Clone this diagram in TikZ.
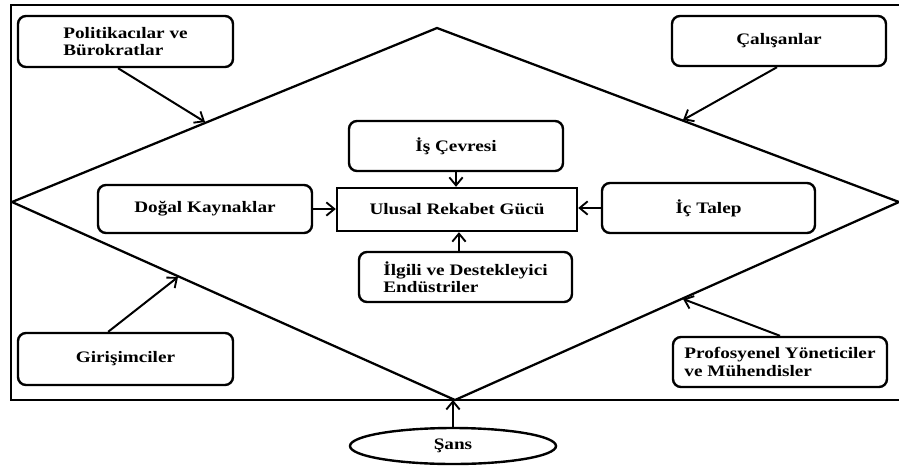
\documentclass[tikz,border=0pt]{standalone}
\usepackage{fontspec}
\setmainfont{Liberation Serif}[FakeStretch=1.2]
\usetikzlibrary{arrows.meta,shapes.geometric}
\begin{document}
\begin{tikzpicture}[x=0.75pt,y=-0.75pt,
  txt/.style={font=\fontsize{12}{13}\selectfont\bfseries},
  box/.style={txt,draw,line width=1.8pt,rounded corners=6pt,align=left,inner sep=0pt},
  sharpbox/.style={txt,draw,line width=1.8pt,align=center,inner sep=0pt},
  oval/.style={txt,draw,ellipse,line width=1.8pt,inner sep=0pt},
  arr/.style={line width=1.5pt,-{Straight Barb[length=6pt,width=10pt,line width=1.4pt]}},
  frame/.style={line width=2.2pt},
  dia/.style={line width=1.7pt,line join=round}
]
\useasboundingbox (0,0) rectangle (899,468);
% outer frame (right side beyond picture)
\draw[frame] (899,5) -- (11,5) -- (11,400) -- (899,400);
% diamond
\coordinate (dl) at (12,202);
\coordinate (dt) at (437,28);
\coordinate (dr) at (899,202);
\coordinate (db) at (455,400);
\draw[dia] (dl) -- (dt) -- (dr) -- (db) -- cycle;
\coordinate (d1) at (205,122);
\coordinate (d2) at (683,120);
\coordinate (d3) at (178,277);
\coordinate (d4) at (683,299);

% boxes
\node[box,minimum width=161.25pt,minimum height=38.25pt] (pol) at (125.5,41.5) {Politikacılar ve\\Bürokratlar};
\node[box,minimum width=160.5pt,minimum height=37.5pt] (cal) at (779,41) {Çalışanlar};
\node[box,minimum width=160.5pt,minimum height=37.5pt] (is) at (456,146) {İş Çevresi};
\node[sharpbox,minimum width=180pt,minimum height=32.25pt] (ulu) at (457,209.5) {Ulusal Rekabet Gücü};
\node[box,minimum width=159.75pt,minimum height=37.5pt] (ilg) at (465.5,277) {İlgili ve Destekleyici\\Endüstriler};
\node[box,minimum width=160.5pt,minimum height=36pt] (dog) at (205,209) {Doğal Kaynaklar};
\node[box,minimum width=159.75pt,minimum height=37.5pt] (ict) at (708.5,208) {İç Talep};
\node[box,minimum width=161.25pt,minimum height=39pt] (gir) at (125.5,359) {Girişimciler};
\node[box,minimum width=160.5pt,minimum height=37.5pt] (pro) at (780,362) {Profosyenel Yöneticiler\\ve Mühendisler};
\node[oval,minimum width=154.5pt,minimum height=27pt] (sans) at (453,446) {Şans};

% connectors
\draw[arr] ([xshift=-5.6pt]pol.south) -- (d1);
\draw[arr] ([xshift=-1.5pt]cal.south) -- (d2);
\draw[arr] ([xshift=-13pt]gir.north) -- (d3);
\draw[arr] (pro.north) -- (d4);
\draw[arr] (is.south) -- (is.south |- ulu.north);
\draw[arr] ([xshift=-4.9pt]ilg.north) -- ([xshift=-4.9pt]ilg.north |- ulu.south);
\draw[arr] (dog.east) -- (dog.east -| ulu.west);
\draw[arr] (ict.west) -- (ict.west -| ulu.east);
\draw[arr] (sans.north) -- (sans.north |- db);
\end{tikzpicture}
\end{document}
